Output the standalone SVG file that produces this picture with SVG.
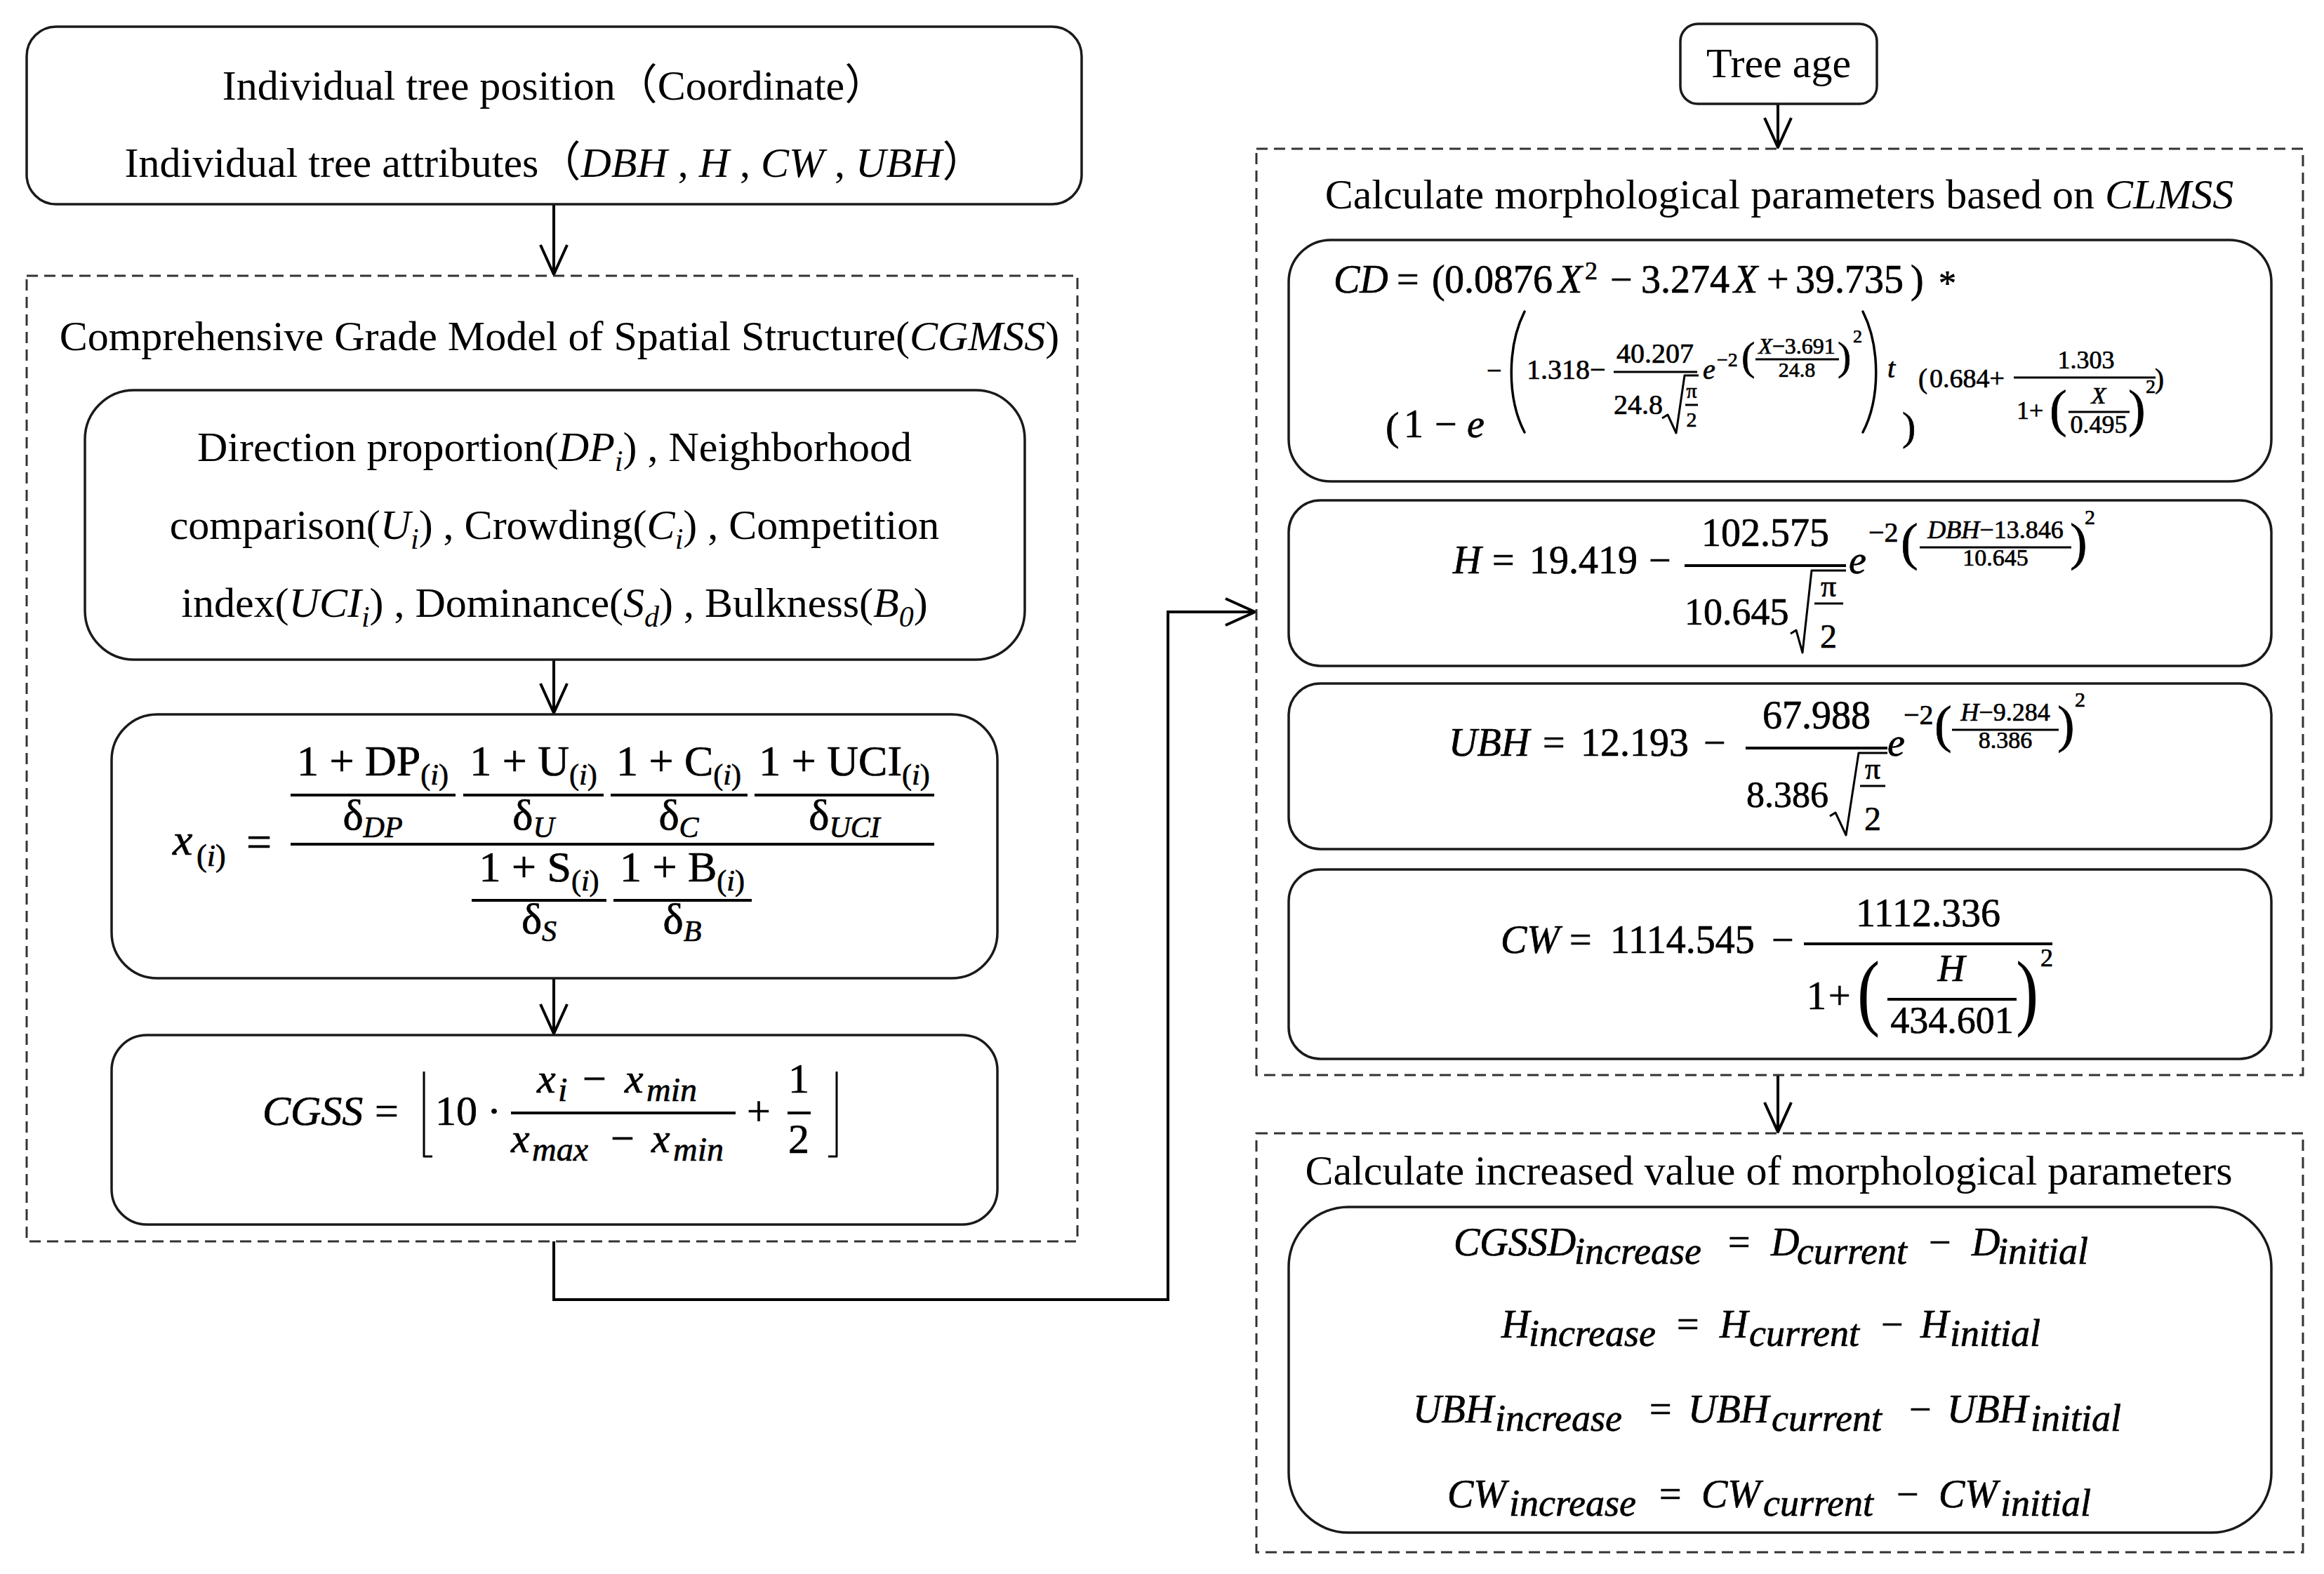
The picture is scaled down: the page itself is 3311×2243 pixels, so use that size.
<svg xmlns="http://www.w3.org/2000/svg" width="3311" height="2243" viewBox="0 0 3311 2243">
<defs>
<style>
.box{fill:#fff;stroke:#1a1a1a;stroke-width:3.5}
.dash{fill:none;stroke:#333;stroke-width:3;stroke-dasharray:16 9}
.conn{fill:none;stroke:#000;stroke-width:4}
.bar{stroke:#000;stroke-width:4}
.bar3{stroke:#000;stroke-width:3}
.rad{fill:none;stroke:#000;stroke-width:3;stroke-linejoin:round}
.dl{fill:none;stroke:#000;stroke-width:3.5;stroke-linecap:round}
.tx{font-family:"Liberation Serif","Noto Sans CJK SC",serif;font-size:60px;fill:#000}
.fm{font-family:"Liberation Serif","DejaVu Serif",serif;fill:#000;stroke:#000;stroke-width:0.7px}
.bp{stroke:none}
.it{font-style:italic}
.mid{text-anchor:middle}
</style>
<marker id="arr" markerUnits="userSpaceOnUse" viewBox="0 0 46 42" refX="44" refY="21" markerWidth="46" markerHeight="42" orient="auto">
<path d="M2,2 L44,21 L2,40" fill="none" stroke="#000" stroke-width="4" stroke-linejoin="round"/>
</marker>
</defs>
<rect width="3311" height="2243" fill="#fff"/>

<g id="connectors">
<path class="conn" d="M789,291 V391" marker-end="url(#arr)"/>
<path class="conn" d="M789,940 V1016" marker-end="url(#arr)"/>
<path class="conn" d="M789,1394 V1473" marker-end="url(#arr)"/>
<path class="conn" d="M789,1769 V1852 H1664 V872 H1788" marker-end="url(#arr)"/>
<path class="conn" d="M2533,148 V210" marker-end="url(#arr)"/>
<path class="conn" d="M2533,1532 V1613" marker-end="url(#arr)"/>
</g>

<g id="n-input">
<rect class="box" x="38" y="38" width="1503" height="253" rx="42"/>
<text class="tx mid" x="790" y="142">Individual tree position（Coordinate）</text>
<text class="tx mid" x="790" y="252">Individual tree attributes（<tspan class="it">DBH</tspan> , <tspan class="it">H</tspan> , <tspan class="it">CW</tspan> , <tspan class="it">UBH</tspan>）</text>
</g>

<g id="g-cgmss">
<rect class="dash" x="38" y="393" width="1497" height="1376"/>
<text class="tx mid" x="797" y="499">Comprehensive Grade Model of Spatial Structure(<tspan class="it">CGMSS</tspan>)</text>
</g>

<g id="n-indices">
<rect class="box" x="121" y="556" width="1339" height="384" rx="70"/>
<text class="tx mid" x="790" y="657">Direction proportion(<tspan class="it">DP</tspan><tspan class="it" font-size="42" dy="14">i</tspan><tspan dy="-14">) , Neighborhood</tspan></text>
<text class="tx mid" x="790" y="768">comparison(<tspan class="it">U</tspan><tspan class="it" font-size="42" dy="14">i</tspan><tspan dy="-14">) , Crowding(</tspan><tspan class="it">C</tspan><tspan class="it" font-size="42" dy="14">i</tspan><tspan dy="-14">) , Competition</tspan></text>
<text class="tx mid" x="790" y="879">index(<tspan class="it">UCI</tspan><tspan class="it" font-size="42" dy="14">i</tspan><tspan dy="-14">) , Dominance(</tspan><tspan class="it">S</tspan><tspan class="it" font-size="42" dy="14">d</tspan><tspan dy="-14">) , Bulkness(</tspan><tspan class="it">B</tspan><tspan class="it" font-size="42" dy="14">0</tspan><tspan dy="-14">)</tspan></text>
</g>

<g id="n-xi">
<rect class="box" x="159" y="1018" width="1262" height="376" rx="65"/>
<text class="fm it" font-size="64" x="246" y="1218">x</text>
<text class="fm" font-size="44" x="280" y="1234">(<tspan class="it">i</tspan>)</text>
<text class="fm" font-size="64" x="351" y="1221">=</text>
<line class="bar" x1="414" y1="1203" x2="1331" y2="1203"/>
<line class="bar" x1="414" y1="1133" x2="649" y2="1133"/>
<line class="bar" x1="660" y1="1133" x2="860" y2="1133"/>
<line class="bar" x1="870" y1="1133" x2="1065" y2="1133"/>
<line class="bar" x1="1075" y1="1133" x2="1331" y2="1133"/>
<text class="fm mid" font-size="62" x="531" y="1105">1 + DP<tspan font-size="42" dy="13">(<tspan class="it">i</tspan>)</tspan></text>
<text class="fm mid" font-size="62" x="760" y="1105">1 + U<tspan font-size="42" dy="13">(<tspan class="it">i</tspan>)</tspan></text>
<text class="fm mid" font-size="62" x="967" y="1105">1 + C<tspan font-size="42" dy="13">(<tspan class="it">i</tspan>)</tspan></text>
<text class="fm mid" font-size="62" x="1203" y="1105">1 + UCI<tspan font-size="42" dy="13">(<tspan class="it">i</tspan>)</tspan></text>
<text class="fm mid" font-size="62" x="531" y="1182">δ<tspan class="it" font-size="42" dy="11">DP</tspan></text>
<text class="fm mid" font-size="62" x="760" y="1182">δ<tspan class="it" font-size="42" dy="11">U</tspan></text>
<text class="fm mid" font-size="62" x="967" y="1182">δ<tspan class="it" font-size="42" dy="11">C</tspan></text>
<text class="fm mid" font-size="62" x="1203" y="1182">δ<tspan class="it" font-size="42" dy="11">UCI</tspan></text>
<line class="bar" x1="672" y1="1283" x2="864" y2="1283"/>
<line class="bar" x1="874" y1="1283" x2="1071" y2="1283"/>
<text class="fm mid" font-size="62" x="768" y="1256">1 + S<tspan font-size="42" dy="13">(<tspan class="it">i</tspan>)</tspan></text>
<text class="fm mid" font-size="62" x="972" y="1256">1 + B<tspan font-size="42" dy="13">(<tspan class="it">i</tspan>)</tspan></text>
<text class="fm mid" font-size="62" x="768" y="1330">δ<tspan class="it" font-size="42" dy="11">S</tspan></text>
<text class="fm mid" font-size="62" x="972" y="1330">δ<tspan class="it" font-size="42" dy="11">B</tspan></text>
</g>

<g id="n-cgss">
<rect class="box" x="159" y="1475" width="1262" height="270" rx="50"/>
<text class="fm it" font-size="60" x="374" y="1603">CGSS</text>
<text class="fm" font-size="60" x="534" y="1603">=</text>
<path class="rad" d="M616,1648 H604 V1527"/>
<text class="fm" font-size="60" x="620" y="1603">10</text>
<text class="fm" font-size="60" x="694" y="1603">·</text>
<line class="bar" x1="728" y1="1586" x2="1048" y2="1586"/>
<text class="fm it" font-size="60" x="765" y="1557">x</text>
<text class="fm it" font-size="48" x="795" y="1569">i</text>
<text class="fm" font-size="60" x="830" y="1557">−</text>
<text class="fm it" font-size="60" x="890" y="1557">x</text>
<text class="fm it" font-size="48" x="921" y="1569">min</text>
<text class="fm it" font-size="60" x="728" y="1642">x</text>
<text class="fm it" font-size="48" x="758" y="1654">max</text>
<text class="fm" font-size="60" x="870" y="1642">−</text>
<text class="fm it" font-size="60" x="928" y="1642">x</text>
<text class="fm it" font-size="48" x="959" y="1654">min</text>
<text class="fm" font-size="60" x="1064" y="1603">+</text>
<line class="bar" x1="1122" y1="1586" x2="1155" y2="1586"/>
<text class="fm mid" font-size="60" x="1138" y="1557">1</text>
<text class="fm mid" font-size="60" x="1138" y="1643">2</text>
<path class="rad" d="M1180,1648 H1192 V1527"/>
</g>

<g id="n-tree-age">
<rect class="box" x="2394" y="34" width="280" height="114" rx="25"/>
<text class="tx mid" x="2534" y="110">Tree age</text>
</g>

<g id="g-clmss">
<rect class="dash" x="1790" y="212" width="1491" height="1320"/>
<text class="tx mid" x="2535" y="297">Calculate morphological parameters based on <tspan class="it">CLMSS</tspan></text>
</g>

<g id="n-cd">
<rect class="box" x="1836" y="342" width="1400" height="344" rx="60"/>
<text class="fm it" font-size="56" x="1900" y="417">CD</text>
<text class="fm" font-size="56" x="1990" y="417">=</text>
<text class="fm" font-size="56" x="2040" y="417">(</text>
<text class="fm" font-size="56" x="2058" y="417">0.0876</text>
<text class="fm it" font-size="56" x="2220" y="417">X</text>
<text class="fm" font-size="36" x="2258" y="398">2</text>
<text class="fm" font-size="56" x="2294" y="417">−</text>
<text class="fm" font-size="56" x="2338" y="417">3.274</text>
<text class="fm it" font-size="56" x="2470" y="417">X</text>
<text class="fm" font-size="56" x="2517" y="417">+</text>
<text class="fm" font-size="56" x="2558" y="417">39.735</text>
<text class="fm" font-size="56" x="2722" y="417">)</text>
<text class="fm" font-size="50" x="2762" y="420">*</text>
<text class="fm" font-size="58" x="1974" y="627">(</text>
<text class="fm" font-size="56" x="2000" y="623">1</text>
<text class="fm" font-size="56" x="2044" y="623">−</text>
<text class="fm it" font-size="56" x="2090" y="623">e</text>
<text class="fm" font-size="38" x="2118" y="541">−</text>
<path class="dl" d="M2172,444 C2147,494 2147,568 2172,616"/>
<text class="fm" font-size="40" x="2175" y="540">1.318−</text>
<line class="bar3" x1="2299" y1="530" x2="2418" y2="530"/>
<text class="fm mid" font-size="40" x="2358" y="517">40.207</text>
<text class="fm" font-size="40" x="2299" y="590">24.8</text>
<path class="rad" d="M2368,596 L2376,591 L2388,617 L2400,535 L2420,535"/>
<text class="fm mid" font-size="30" x="2410" y="567">π</text>
<line class="bar3" x1="2401" y1="577" x2="2419" y2="577"/>
<text class="fm mid" font-size="30" x="2410" y="608">2</text>
<text class="fm it" font-size="40" x="2426" y="540">e</text>
<text class="fm" font-size="28" x="2446" y="522">−2</text>
<text class="fm" font-size="58" x="2481" y="527">(</text>
<text class="fm mid" font-size="32" x="2560" y="504"><tspan class="it">X</tspan>−3.691</text>
<line class="bar3" x1="2501" y1="512" x2="2620" y2="512"/>
<text class="fm mid" font-size="30" x="2560" y="537">24.8</text>
<text class="fm" font-size="58" x="2618" y="527">)</text>
<text class="fm" font-size="26" x="2640" y="488">2</text>
<path class="dl" d="M2654,444 C2679,494 2679,568 2654,616"/>
<text class="fm it" font-size="40" x="2689" y="538">t</text>
<text class="fm" font-size="58" x="2710" y="627">)</text>
<text class="fm" font-size="39" x="2733" y="553">(</text>
<text class="fm" font-size="38" x="2749" y="552">0.684+</text>
<line class="bar3" x1="2869" y1="538" x2="3071" y2="538"/>
<text class="fm mid" font-size="36" x="2972" y="525">1.303</text>
<text class="fm" font-size="36" x="2873" y="597">1+</text>
<text class="fm" font-size="74" x="2920" y="607">(</text>
<text class="fm it mid" font-size="34" x="2990" y="575">X</text>
<line class="bar3" x1="2947" y1="587" x2="3034" y2="587"/>
<text class="fm mid" font-size="36" x="2990" y="617">0.495</text>
<text class="fm" font-size="74" x="3032" y="607">)</text>
<text class="fm" font-size="28" x="3057" y="560">2</text>
<text class="fm" font-size="39" x="3070" y="553">)</text>
</g>

<g id="n-h">
<rect class="box" x="1836" y="713" width="1400" height="236" rx="45"/>
<text class="fm it" font-size="56" x="2070" y="817">H</text>
<text class="fm" font-size="56" x="2126" y="817">=</text>
<text class="fm" font-size="56" x="2179" y="817">19.419</text>
<text class="fm" font-size="56" x="2349" y="817">−</text>
<line class="bar" x1="2400" y1="806" x2="2630" y2="806"/>
<text class="fm mid" font-size="56" x="2515" y="778">102.575</text>
<text class="fm" font-size="54" x="2400" y="890">10.645</text>
<path class="rad" d="M2551,903 L2559,898 L2568,930 L2581,813 L2630,813"/>
<text class="fm mid" font-size="44" x="2605" y="850">π</text>
<line class="bar3" x1="2585" y1="860" x2="2626" y2="860"/>
<text class="fm mid" font-size="48" x="2605" y="923">2</text>
<text class="fm it" font-size="56" x="2634" y="817">e</text>
<text class="fm" font-size="40" x="2662" y="772">−2</text>
<text class="fm" font-size="74" x="2708" y="797">(</text>
<text class="fm mid" font-size="36" x="2843" y="767"><tspan class="it">DBH</tspan>−13.846</text>
<line class="bar3" x1="2735" y1="780" x2="2951" y2="780"/>
<text class="fm mid" font-size="34" x="2843" y="806">10.645</text>
<text class="fm" font-size="74" x="2949" y="797">)</text>
<text class="fm" font-size="30" x="2970" y="747">2</text>
</g>

<g id="n-ubh">
<rect class="box" x="1836" y="974" width="1400" height="236" rx="45"/>
<text class="fm it" font-size="56" x="2064" y="1077">UBH</text>
<text class="fm" font-size="56" x="2198" y="1077">=</text>
<text class="fm" font-size="56" x="2252" y="1077">12.193</text>
<text class="fm" font-size="56" x="2427" y="1077">−</text>
<line class="bar" x1="2487" y1="1066" x2="2689" y2="1066"/>
<text class="fm mid" font-size="56" x="2588" y="1038">67.988</text>
<text class="fm" font-size="52" x="2488" y="1150">8.386</text>
<path class="rad" d="M2607,1163 L2615,1158 L2630,1190 L2648,1073 L2689,1073"/>
<text class="fm mid" font-size="44" x="2668" y="1110">π</text>
<line class="bar3" x1="2650" y1="1120" x2="2686" y2="1120"/>
<text class="fm mid" font-size="48" x="2668" y="1183">2</text>
<text class="fm it" font-size="56" x="2689" y="1077">e</text>
<text class="fm" font-size="40" x="2712" y="1032">−2</text>
<text class="fm" font-size="74" x="2756" y="1057">(</text>
<text class="fm mid" font-size="36" x="2857" y="1027"><tspan class="it">H</tspan>−9.284</text>
<line class="bar3" x1="2781" y1="1040" x2="2933" y2="1040"/>
<text class="fm mid" font-size="34" x="2857" y="1066">8.386</text>
<text class="fm" font-size="74" x="2931" y="1057">)</text>
<text class="fm" font-size="30" x="2956" y="1007">2</text>
</g>

<g id="n-cw">
<rect class="box" x="1836" y="1239" width="1400" height="270" rx="45"/>
<text class="fm it" font-size="56" x="2138" y="1358">CW</text>
<text class="fm" font-size="56" x="2236" y="1358">=</text>
<text class="fm" font-size="56" x="2294" y="1358">1114.545</text>
<text class="fm" font-size="56" x="2524" y="1358">−</text>
<line class="bar" x1="2570" y1="1345" x2="2924" y2="1345"/>
<text class="fm mid" font-size="56" x="2747" y="1320">1112.336</text>
<text class="fm" font-size="56" x="2574" y="1438">1</text>
<text class="fm" font-size="56" x="2605" y="1438">+</text>
<text class="fm bp" font-size="121" transform="translate(2646,1453) scale(0.8,1)">(</text>
<text class="fm it mid" font-size="54" x="2780" y="1398">H</text>
<line class="bar" x1="2689" y1="1424" x2="2873" y2="1424"/>
<text class="fm mid" font-size="54" x="2781" y="1472">434.601</text>
<text class="fm bp" font-size="121" transform="translate(2872,1453) scale(0.8,1)">)</text>
<text class="fm" font-size="36" x="2907" y="1377">2</text>
</g>

<g id="g-increase">
<rect class="dash" x="1790" y="1615" width="1491" height="597"/>
<text class="tx mid" x="2520" y="1688">Calculate increased value of morphological parameters</text>
</g>

<g id="n-increase">
<rect class="box" x="1836" y="1720" width="1400" height="464" rx="85"/>
<text class="fm it" font-size="56" x="2071" y="1789">CGSSD</text>
<text class="fm it" font-size="54" x="2243" y="1801">increase</text>
<text class="fm" font-size="56" x="2462" y="1789">=</text>
<text class="fm it" font-size="56" x="2523" y="1789">D</text>
<text class="fm it" font-size="54" x="2560" y="1801">current</text>
<text class="fm" font-size="56" x="2748" y="1789">−</text>
<text class="fm it" font-size="56" x="2809" y="1789">D</text>
<text class="fm it" font-size="54" x="2846" y="1801">initial</text>

<text class="fm it" font-size="56" x="2139" y="1906">H</text>
<text class="fm it" font-size="54" x="2178" y="1918">increase</text>
<text class="fm" font-size="56" x="2389" y="1906">=</text>
<text class="fm it" font-size="56" x="2450" y="1906">H</text>
<text class="fm it" font-size="54" x="2492" y="1918">current</text>
<text class="fm" font-size="56" x="2680" y="1906">−</text>
<text class="fm it" font-size="56" x="2736" y="1906">H</text>
<text class="fm it" font-size="54" x="2778" y="1918">initial</text>

<text class="fm it" font-size="56" x="2013" y="2027">UBH</text>
<text class="fm it" font-size="54" x="2130" y="2039">increase</text>
<text class="fm" font-size="56" x="2350" y="2027">=</text>
<text class="fm it" font-size="56" x="2405" y="2027">UBH</text>
<text class="fm it" font-size="54" x="2524" y="2039">current</text>
<text class="fm" font-size="56" x="2720" y="2027">−</text>
<text class="fm it" font-size="56" x="2774" y="2027">UBH</text>
<text class="fm it" font-size="54" x="2893" y="2039">initial</text>

<text class="fm it" font-size="56" x="2062" y="2148">CW</text>
<text class="fm it" font-size="54" x="2150" y="2160">increase</text>
<text class="fm" font-size="56" x="2364" y="2148">=</text>
<text class="fm it" font-size="56" x="2424" y="2148">CW</text>
<text class="fm it" font-size="54" x="2512" y="2160">current</text>
<text class="fm" font-size="56" x="2702" y="2148">−</text>
<text class="fm it" font-size="56" x="2762" y="2148">CW</text>
<text class="fm it" font-size="54" x="2850" y="2160">initial</text>
</g>
</svg>
